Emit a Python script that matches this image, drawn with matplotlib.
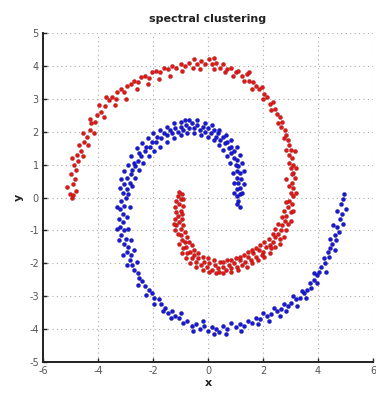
import matplotlib
matplotlib.use("Agg")
import matplotlib.pyplot as plt

plt.rcParams['axes.unicode_minus'] = False

red_pts = [
    (-4.95,0.00), (-5.02,0.12), (-4.90,0.08), (-5.13,0.32), (-4.92,0.40), (-4.85,0.55), (-4.98,0.70),
    (-4.80,0.85), (-4.88,1.00), (-4.72,1.10), (-4.75,1.30), (-4.62,1.42), (-4.68,1.60), (-4.50,1.70),
    (-4.40,1.85), (-4.55,1.95), (-4.30,2.05), (-4.25,2.25), (-4.10,2.30), (-4.05,2.50), (-3.90,2.60),
    (-3.95,2.80), (-3.75,2.78), (-3.60,2.95), (-3.50,3.05), (-3.35,3.00), (-3.30,3.20), (-3.15,3.30),
    (-3.05,3.20), (-2.95,3.40), (-2.80,3.45), (-2.70,3.55), (-2.55,3.50), (-2.45,3.65), (-2.30,3.70),
    (-2.15,3.62), (-2.05,3.80), (-1.90,3.85), (-1.75,3.80), (-1.60,3.95), (-1.45,3.90), (-1.30,4.00),
    (-1.15,3.95), (-1.00,4.05), (-0.85,4.00), (-0.70,4.10), (-0.55,3.95), (-0.40,4.05), (-0.25,4.15),
    (-0.10,4.05), (0.05,4.20), (0.15,4.05), (0.30,4.10), (0.45,3.95), (0.55,4.05), (0.70,3.90),
    (0.85,3.95), (1.00,3.80), (1.10,3.85), (1.25,3.70), (1.40,3.75), (1.50,3.55), (1.65,3.50),
    (1.75,3.40), (1.85,3.30), (1.95,3.35), (2.05,3.15), (2.15,3.05), (2.25,2.85), (2.35,2.90),
    (2.45,2.70), (2.50,2.55), (2.60,2.45), (2.70,2.30), (2.65,2.15), (2.80,2.05), (2.85,1.90),
    (2.90,1.75), (2.95,1.60), (3.00,1.45), (2.95,1.30), (3.05,1.20), (3.10,1.00), (3.00,0.90),
    (3.10,0.75), (3.15,0.60), (3.05,0.45), (3.10,0.30), (3.00,0.15), (3.10,0.05), (2.95,-0.10),
    (3.05,-0.20), (2.90,-0.30), (3.00,-0.45), (2.85,-0.55), (2.80,-0.70), (2.90,-0.80), (2.70,-0.85),
    (2.65,-1.00), (2.55,-1.10), (2.60,-1.25), (2.45,-1.20), (2.35,-1.35), (2.25,-1.45), (2.30,-1.55),
    (2.10,-1.50), (2.00,-1.65), (1.95,-1.75), (1.85,-1.60), (1.75,-1.80), (1.65,-1.70), (1.55,-1.90),
    (1.45,-1.80), (1.35,-1.95), (1.25,-2.05), (1.15,-1.90), (1.05,-2.10), (0.95,-2.00), (0.85,-2.15),
    (0.75,-2.05), (0.65,-2.20), (0.55,-2.10), (0.45,-1.95), (0.35,-2.15), (0.25,-2.05), (0.15,-2.20),
    (0.05,-2.00), (-0.05,-2.10), (-0.15,-1.95), (-0.25,-2.05), (-0.35,-1.85), (-0.45,-1.95),
    (-0.50,-1.75), (-0.60,-1.85), (-0.65,-1.65), (-0.75,-1.70), (-0.80,-1.50), (-0.90,-1.55),
    (-0.85,-1.35), (-0.95,-1.30), (-1.00,-1.15), (-1.10,-1.10), (-1.00,-0.95), (-1.15,-0.85),
    (-1.05,-0.75), (-1.20,-0.65), (-1.10,-0.55), (-1.15,-0.45), (-1.00,-0.40), (-1.20,-0.30),
    (-1.05,-0.20), (-1.15,-0.10), (-1.00,-0.05), (-1.10,0.05), (-0.95,0.10), (-1.05,0.18),
    # second band of points
    (-4.80,0.20), (-4.95,1.20), (-4.55,1.25), (-4.35,1.60), (-4.15,1.95), (-4.30,2.40), (-3.80,2.45),
    (-3.70,3.05), (-3.40,2.80), (-3.00,3.00), (-2.60,3.30), (-2.20,3.45), (-1.80,3.60), (-1.40,3.70),
    (-0.95,3.85), (-0.50,4.20), (-0.30,3.90), (0.20,3.90), (0.60,3.80), (0.90,3.70), (1.30,3.55),
    (1.60,3.30), (2.00,3.00), (2.30,2.65), (2.55,2.25), (2.75,1.80), (2.85,1.45), (2.95,1.05),
    (1.50,3.80), (0.20,4.25),
    (2.75,-0.40), (2.85,-0.15), (2.95,0.35), (2.85,0.55), (3.05,0.70), (2.70,-0.60), (2.55,-0.80),
    (2.45,-0.95), (2.35,-1.10), (2.20,-1.25), (2.05,-1.35), (1.90,-1.45), (1.75,-1.55), (1.60,-1.60),
    (1.45,-1.65), (1.30,-1.75), (1.15,-1.80), (1.00,-1.85), (0.85,-1.90), (0.70,-1.90), (0.55,-1.95),
    (0.40,-2.25), (0.20,-1.90), (0.00,-1.85), (-0.20,-1.80), (-0.35,-1.70), (-0.50,-1.60),
    (-0.60,-1.45), (-0.70,-1.35), (-0.75,-1.20), (-0.85,-1.05), (-0.90,-0.85), (-0.95,-0.65),
    (-0.95,-0.50), (-0.90,-0.25), (-0.90,-0.05), (-1.25,-0.80), (-1.20,-1.00), (-1.05,-1.40),
    (-0.95,-1.70), (-0.80,-1.85), (-0.65,-2.00), (-0.45,-2.10), (-0.20,-2.20), (0.05,-2.25),
    (0.30,-2.30), (0.55,-2.30), (0.85,-2.25), (1.10,-2.20), (1.40,-2.10), (1.60,-2.00), (1.80,-1.90),
    (2.05,-1.80), (2.25,-1.70), (2.45,-1.50), (2.60,-1.40), (2.75,-1.20), (2.85,-1.00), (3.00,-0.70),
    (3.10,-0.40), (3.20,0.15), (3.20,0.90), (3.15,1.40),
]

blue_pts = [
    (4.90,-0.05), (4.95,0.10), (4.85,-0.20), (5.00,-0.35), (4.88,-0.50), (4.80,-0.65), (4.92,-0.80),
    (4.70,-0.90), (4.75,-1.05), (4.60,-1.15), (4.65,-1.30), (4.50,-1.40), (4.45,-1.55), (4.35,-1.65),
    (4.40,-1.80), (4.20,-1.85), (4.25,-2.00), (4.10,-2.10), (4.05,-2.25), (3.95,-2.35), (3.85,-2.30),
    (3.85,-2.50), (3.70,-2.60), (3.75,-2.75), (3.60,-2.80), (3.50,-2.90), (3.40,-2.85), (3.35,-3.05),
    (3.20,-3.10), (3.10,-3.00), (3.00,-3.20), (2.90,-3.30), (2.75,-3.25), (2.65,-3.40), (2.50,-3.45),
    (2.40,-3.35), (2.30,-3.55), (2.15,-3.60), (2.00,-3.50), (1.90,-3.70), (1.75,-3.65), (1.60,-3.80),
    (1.45,-3.75), (1.30,-3.90), (1.15,-3.85), (1.00,-3.95), (0.85,-3.80), (0.70,-4.00), (0.55,-3.90),
    (0.40,-4.10), (0.30,-4.00), (0.15,-3.95), (0.00,-4.05), (-0.15,-3.90), (-0.30,-4.00),
    (-0.45,-3.85), (-0.60,-3.90), (-0.75,-3.75), (-0.90,-3.80), (-1.05,-3.65), (-1.20,-3.60),
    (-1.30,-3.45), (-1.45,-3.50), (-1.55,-3.35), (-1.70,-3.25), (-1.80,-3.10), (-1.95,-3.05),
    (-2.05,-2.90), (-2.15,-2.80), (-2.30,-2.70), (-2.40,-2.55), (-2.50,-2.45), (-2.55,-2.30),
    (-2.70,-2.20), (-2.75,-2.05), (-2.85,-1.90), (-2.80,-1.75), (-2.95,-1.65), (-2.90,-1.50),
    (-3.05,-1.40), (-3.00,-1.25), (-3.15,-1.15), (-3.05,-1.00), (-3.20,-0.90), (-3.10,-0.75),
    (-3.25,-0.65), (-3.10,-0.50), (-3.20,-0.35), (-3.05,-0.25), (-3.15,-0.10), (-3.00,0.00),
    (-3.10,0.15), (-2.95,0.25), (-3.05,0.40), (-2.85,0.45), (-2.95,0.60), (-2.80,0.70), (-2.75,0.85),
    (-2.65,0.95), (-2.70,1.05), (-2.55,1.10), (-2.45,1.25), (-2.50,1.35), (-2.30,1.40), (-2.25,1.55),
    (-2.10,1.55), (-2.05,1.70), (-1.90,1.70), (-1.85,1.85), (-1.70,1.80), (-1.60,1.95), (-1.50,1.90),
    (-1.40,2.05), (-1.30,1.95), (-1.20,2.10), (-1.10,2.00), (-1.00,2.15), (-0.90,2.05), (-0.84,2.36),
    (-0.80,2.20), (-0.70,2.10), (-0.60,2.25), (-0.50,2.10), (-0.40,2.20), (-0.30,2.05), (-0.20,2.15),
    (-0.10,2.00), (0.00,2.10), (0.10,1.95), (0.20,2.05), (0.30,1.85), (0.35,1.95), (0.45,1.75),
    (0.55,1.85), (0.60,1.65), (0.70,1.70), (0.75,1.50), (0.85,1.55), (0.85,1.35), (0.95,1.40),
    (0.95,1.20), (1.05,1.15), (1.00,1.00), (1.10,0.95), (1.05,0.80), (1.15,0.75), (1.05,0.60),
    (1.20,0.55), (1.10,0.45), (1.15,0.30), (1.05,0.25), (1.15,0.10), (1.05,0.05), (1.10,-0.10),
    (1.05,-0.20),
    # second band of points
    (4.70,-0.40), (4.55,-0.85), (4.45,-1.25), (4.60,-1.60), (4.30,-2.25), (3.95,-2.60), (3.55,-3.05),
    (3.25,-3.30), (2.85,-3.45), (2.60,-3.60), (2.20,-3.75), (1.80,-3.85), (1.20,-4.05), (0.65,-4.15),
    (0.20,-4.15), (-0.20,-3.75), (-0.55,-4.05), (-1.00,-3.50), (-1.35,-3.65), (-1.65,-3.45),
    (-1.95,-3.25), (-2.25,-2.95), (-2.55,-2.65), (-2.95,-2.05), (-3.10,-1.75), (-3.25,-1.30),
    (-2.90,0.10), (-2.85,-0.30), (-2.95,-0.60), (-2.90,-0.95), (-2.80,-1.30), (-2.70,-1.60),
    (-2.60,-1.95), (-3.30,-0.30), (-3.30,-0.95), (-3.20,0.30), (-3.15,0.55), (-3.05,0.80),
    (-2.90,1.00), (-2.80,1.25), (-2.60,1.50), (-2.40,1.65), (-2.20,1.80), (-2.00,1.95), (-1.75,2.05),
    (-1.50,2.15), (-1.25,2.25), (-1.00,2.30), (-0.70,2.35), (-0.40,2.35), (-0.10,2.25), (0.15,2.20),
    (0.40,2.05), (0.65,1.90), (0.85,1.75), (1.05,1.55), (1.15,1.30), (1.25,1.05), (1.30,0.80),
    (1.30,0.40), (1.25,0.15), (1.15,-0.30), (0.95,0.15), (0.95,0.45), (0.90,0.75), (0.80,1.05),
    (0.70,1.25), (0.55,1.45), (0.40,1.60), (0.20,1.75), (0.00,1.85), (-0.25,1.90), (-0.50,1.95),
    (-0.75,1.95), (-1.00,1.90), (-1.25,1.80), (-1.50,1.70), (-1.75,1.55), (-1.95,1.40), (-2.15,1.25),
    (-2.35,1.05), (-2.50,0.85), (-2.65,0.60), (-2.75,0.35),
]

red_x = [p[0] for p in red_pts]
red_y = [p[1] for p in red_pts]
blue_x = [p[0] for p in blue_pts]
blue_y = [p[1] for p in blue_pts]

x_ticks = [-6, -4, -2, 0, 2, 4, 6]
y_ticks = [-5, -4, -3, -2, -1, 0, 1, 2, 3, 4, 5]

fig = plt.figure(figsize=(3.76, 3.95), dpi=100)
ax = fig.add_axes([43/376, 33/395, 330/376, 329/395])

ax.scatter(red_x, red_y, s=8, c='#e01818', edgecolors='#a01010', linewidths=0.3, zorder=3)
ax.scatter(blue_x, blue_y, s=8, c='#1818d8', edgecolors='#10108a', linewidths=0.3, zorder=3)

ax.set_xlim(-6, 6)
ax.set_ylim(-5, 5)
ax.set_xticks(x_ticks)
ax.set_yticks(y_ticks)
ax.grid(True, linestyle=(0, (1, 3)), color='#aaaaaa', linewidth=0.8)
ax.set_axisbelow(True)

for s in ['top', 'right']:
    ax.spines[s].set_visible(False)
for s in ['left', 'bottom']:
    ax.spines[s].set_linewidth(1.4)
    ax.spines[s].set_color('#222222')

ax.tick_params(direction='in', length=3, width=1, labelsize=7, colors='#222222', pad=3)
for lab in ax.get_xticklabels() + ax.get_yticklabels():
    lab.set_color('#555555')

ax.set_title('spectral clustering', fontsize=8, fontweight='bold', pad=8, color='#222222')
ax.set_xlabel('x', fontsize=8, fontweight='bold', labelpad=1, color='#222222')
ax.set_ylabel('y', fontsize=8, fontweight='bold', labelpad=4, color='#222222')

fig.savefig('out.png', dpi=100, facecolor='white')
